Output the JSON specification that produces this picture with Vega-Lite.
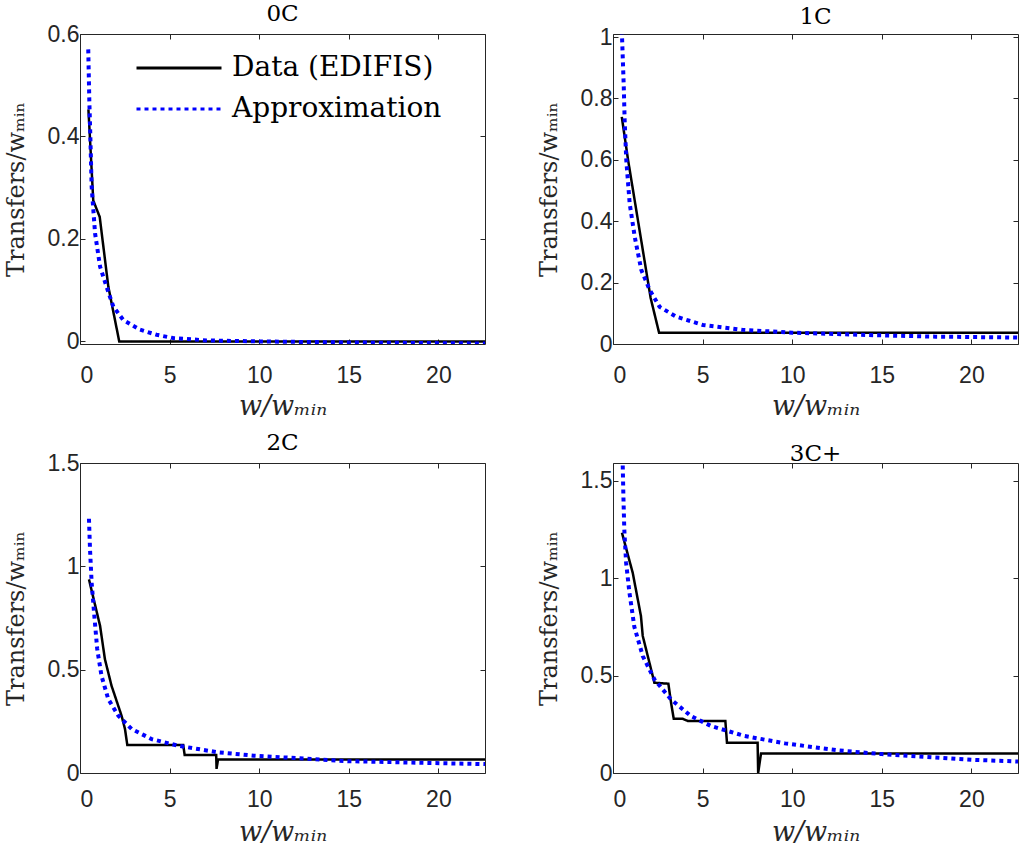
{
  "$schema": "https://vega.github.io/schema/vega-lite/v6.json",
  "background": "white",
  "padding": {"left": 3, "top": 2, "right": 0, "bottom": 2},
  "data": {"values": [
    {"p":"0C","s":"Data (EDIFIS)","x":0.47,"y":0.453},
    {"p":"0C","s":"Data (EDIFIS)","x":0.74,"y":0.275},
    {"p":"0C","s":"Data (EDIFIS)","x":1.1,"y":0.243},
    {"p":"0C","s":"Data (EDIFIS)","x":1.58,"y":0.107},
    {"p":"0C","s":"Data (EDIFIS)","x":2.19,"y":0},
    {"p":"0C","s":"Data (EDIFIS)","x":22.6,"y":0},
    {"p":"0C","s":"Approximation","x":0.46,"y":0.57},
    {"p":"0C","s":"Approximation","x":0.52,"y":0.47},
    {"p":"0C","s":"Approximation","x":0.57,"y":0.41},
    {"p":"0C","s":"Approximation","x":0.65,"y":0.302},
    {"p":"0C","s":"Approximation","x":0.84,"y":0.211},
    {"p":"0C","s":"Approximation","x":1.12,"y":0.146},
    {"p":"0C","s":"Approximation","x":1.48,"y":0.107},
    {"p":"0C","s":"Approximation","x":1.86,"y":0.068},
    {"p":"0C","s":"Approximation","x":2.41,"y":0.042},
    {"p":"0C","s":"Approximation","x":3.35,"y":0.023},
    {"p":"0C","s":"Approximation","x":4.27,"y":0.013},
    {"p":"0C","s":"Approximation","x":5.2,"y":0.0066},
    {"p":"0C","s":"Approximation","x":7.06,"y":0.002},
    {"p":"0C","s":"Approximation","x":10,"y":0},
    {"p":"0C","s":"Approximation","x":15,"y":-0.002},
    {"p":"0C","s":"Approximation","x":22.6,"y":-0.004},
    {"p":"1C","s":"Data (EDIFIS)","x":0.49,"y":0.74},
    {"p":"1C","s":"Data (EDIFIS)","x":0.84,"y":0.6},
    {"p":"1C","s":"Data (EDIFIS)","x":2.1,"y":0.15},
    {"p":"1C","s":"Data (EDIFIS)","x":2.57,"y":0.037},
    {"p":"1C","s":"Data (EDIFIS)","x":22.6,"y":0.037},
    {"p":"1C","s":"Approximation","x":0.49,"y":1.1},
    {"p":"1C","s":"Approximation","x":0.5,"y":1.007},
    {"p":"1C","s":"Approximation","x":0.6,"y":0.84},
    {"p":"1C","s":"Approximation","x":0.65,"y":0.73},
    {"p":"1C","s":"Approximation","x":0.74,"y":0.6},
    {"p":"1C","s":"Approximation","x":0.93,"y":0.458},
    {"p":"1C","s":"Approximation","x":1.21,"y":0.35},
    {"p":"1C","s":"Approximation","x":1.58,"y":0.241},
    {"p":"1C","s":"Approximation","x":2.05,"y":0.176},
    {"p":"1C","s":"Approximation","x":2.6,"y":0.121},
    {"p":"1C","s":"Approximation","x":3.53,"y":0.089},
    {"p":"1C","s":"Approximation","x":5.02,"y":0.062},
    {"p":"1C","s":"Approximation","x":7.25,"y":0.046},
    {"p":"1C","s":"Approximation","x":10,"y":0.037},
    {"p":"1C","s":"Approximation","x":14.3,"y":0.029},
    {"p":"1C","s":"Approximation","x":18,"y":0.024},
    {"p":"1C","s":"Approximation","x":22.6,"y":0.021},
    {"p":"2C","s":"Data (EDIFIS)","x":0.5,"y":0.937},
    {"p":"2C","s":"Data (EDIFIS)","x":1.12,"y":0.712},
    {"p":"2C","s":"Data (EDIFIS)","x":1.39,"y":0.551},
    {"p":"2C","s":"Data (EDIFIS)","x":1.76,"y":0.422},
    {"p":"2C","s":"Data (EDIFIS)","x":2.32,"y":0.277},
    {"p":"2C","s":"Data (EDIFIS)","x":2.51,"y":0.213},
    {"p":"2C","s":"Data (EDIFIS)","x":2.64,"y":0.135},
    {"p":"2C","s":"Data (EDIFIS)","x":5.76,"y":0.135},
    {"p":"2C","s":"Data (EDIFIS)","x":5.84,"y":0.087},
    {"p":"2C","s":"Data (EDIFIS)","x":7.6,"y":0.087},
    {"p":"2C","s":"Data (EDIFIS)","x":7.62,"y":0.02},
    {"p":"2C","s":"Data (EDIFIS)","x":7.7,"y":0.065},
    {"p":"2C","s":"Data (EDIFIS)","x":22.6,"y":0.065},
    {"p":"2C","s":"Approximation","x":0.5,"y":1.23},
    {"p":"2C","s":"Approximation","x":0.56,"y":1.08},
    {"p":"2C","s":"Approximation","x":0.65,"y":0.92},
    {"p":"2C","s":"Approximation","x":0.8,"y":0.76},
    {"p":"2C","s":"Approximation","x":0.96,"y":0.6},
    {"p":"2C","s":"Approximation","x":1.2,"y":0.47},
    {"p":"2C","s":"Approximation","x":1.58,"y":0.357},
    {"p":"2C","s":"Approximation","x":2.14,"y":0.277},
    {"p":"2C","s":"Approximation","x":2.88,"y":0.213},
    {"p":"2C","s":"Approximation","x":4.0,"y":0.164},
    {"p":"2C","s":"Approximation","x":5.48,"y":0.132},
    {"p":"2C","s":"Approximation","x":7.7,"y":0.1},
    {"p":"2C","s":"Approximation","x":9.7,"y":0.084},
    {"p":"2C","s":"Approximation","x":15,"y":0.057},
    {"p":"2C","s":"Approximation","x":22.6,"y":0.043},
    {"p":"3C+","s":"Data (EDIFIS)","x":0.5,"y":1.232},
    {"p":"3C+","s":"Data (EDIFIS)","x":1.1,"y":1.027},
    {"p":"3C+","s":"Data (EDIFIS)","x":1.56,"y":0.805},
    {"p":"3C+","s":"Data (EDIFIS)","x":1.66,"y":0.703},
    {"p":"3C+","s":"Data (EDIFIS)","x":1.94,"y":0.6},
    {"p":"3C+","s":"Data (EDIFIS)","x":2.31,"y":0.463},
    {"p":"3C+","s":"Data (EDIFIS)","x":3.09,"y":0.458},
    {"p":"3C+","s":"Data (EDIFIS)","x":3.24,"y":0.36},
    {"p":"3C+","s":"Data (EDIFIS)","x":3.39,"y":0.278},
    {"p":"3C+","s":"Data (EDIFIS)","x":3.89,"y":0.278},
    {"p":"3C+","s":"Data (EDIFIS)","x":4.17,"y":0.267},
    {"p":"3C+","s":"Data (EDIFIS)","x":6.27,"y":0.267},
    {"p":"3C+","s":"Data (EDIFIS)","x":6.36,"y":0.155},
    {"p":"3C+","s":"Data (EDIFIS)","x":8.07,"y":0.155},
    {"p":"3C+","s":"Data (EDIFIS)","x":8.1,"y":0},
    {"p":"3C+","s":"Data (EDIFIS)","x":8.26,"y":0.1},
    {"p":"3C+","s":"Data (EDIFIS)","x":22.6,"y":0.1},
    {"p":"3C+","s":"Approximation","x":0.5,"y":1.7},
    {"p":"3C+","s":"Approximation","x":0.54,"y":1.59},
    {"p":"3C+","s":"Approximation","x":0.58,"y":1.42},
    {"p":"3C+","s":"Approximation","x":0.63,"y":1.25},
    {"p":"3C+","s":"Approximation","x":0.73,"y":1.08},
    {"p":"3C+","s":"Approximation","x":0.91,"y":0.93},
    {"p":"3C+","s":"Approximation","x":1.19,"y":0.75},
    {"p":"3C+","s":"Approximation","x":1.66,"y":0.6},
    {"p":"3C+","s":"Approximation","x":2.31,"y":0.48},
    {"p":"3C+","s":"Approximation","x":3.24,"y":0.377},
    {"p":"3C+","s":"Approximation","x":4.35,"y":0.292},
    {"p":"3C+","s":"Approximation","x":5.47,"y":0.241},
    {"p":"3C+","s":"Approximation","x":7.33,"y":0.19},
    {"p":"3C+","s":"Approximation","x":9.6,"y":0.152},
    {"p":"3C+","s":"Approximation","x":12.55,"y":0.116},
    {"p":"3C+","s":"Approximation","x":15,"y":0.097},
    {"p":"3C+","s":"Approximation","x":20,"y":0.068},
    {"p":"3C+","s":"Approximation","x":22.6,"y":0.059}
  ]},
  "columns": 2,
  "spacing": {"row": 119, "column": 128},
  "bounds": "flush",
  "resolve": {"legend": {"color": "independent", "strokeDash": "independent"}},
  "concat": [
    {
      "width": 405, "height": 310, "title": "0C",
      "transform": [{"filter": "datum.p === '0C'"}],
      "resolve": {"axis": {"x": "independent", "y": "independent"}},
      "layer": [
        {
          "transform": [{"filter": "datum.s === 'Data (EDIFIS)'"}],
          "mark": {"type": "line", "strokeWidth": 2.5, "clip": true},
          "encoding": {
            "x": {"field": "x", "type": "quantitative", "scale": {"domain": [0, 22.6], "nice": false, "zero": false}, "axis": {"orient": "bottom", "values": [0,5,10,15,20], "title": "w/wₘᵢₙ", "titleFontStyle": "italic", "titleFontSize": 27, "labelPadding": 25, "titlePadding": 6}},
            "y": {"field": "y", "type": "quantitative", "scale": {"domain": [-0.005, 0.6], "nice": false, "zero": false}, "axis": {"orient": "left", "values": [0,0.2,0.4,0.6], "format": "~g", "title": "Transfers/wₘᵢₙ", "labelPadding": 6, "titlePadding": 19}},
            "color": {"field": "s", "type": "nominal", "scale": {"domain": ["Data (EDIFIS)", "Approximation"], "range": ["#000000", "#0000ff"]}, "legend": {"orient": "none", "legendX": 55, "legendY": 20, "title": null, "symbolType": "stroke", "symbolSize": 7225, "symbolStrokeWidth": 3, "labelFont": "DejaVu Serif", "labelFontSize": 28, "labelColor": "#000000", "labelLimit": 0, "clipHeight": 28, "rowPadding": 13, "labelOffset": 9, "padding": 0}},
            "strokeDash": {"field": "s", "type": "nominal", "scale": {"domain": ["Data (EDIFIS)", "Approximation"], "range": [[1,0],[4,4]]}, "legend": {"orient": "none", "legendX": 55, "legendY": 20, "title": null, "symbolType": "stroke", "symbolSize": 7225, "symbolStrokeWidth": 3, "labelFont": "DejaVu Serif", "labelFontSize": 28, "labelColor": "#000000", "labelLimit": 0, "clipHeight": 28, "rowPadding": 13, "labelOffset": 9, "padding": 0}}
          }
        },
        {
          "transform": [{"filter": "datum.s === 'Approximation'"}],
          "mark": {"type": "line", "strokeWidth": 4, "clip": true},
          "encoding": {
            "x": {"field": "x", "type": "quantitative", "axis": {"orient": "top", "values": [0,5,10,15,20], "labels": false, "title": null, "minExtent": 0}},
            "y": {"field": "y", "type": "quantitative", "axis": {"orient": "right", "values": [0,0.2,0.4,0.6], "labels": false, "title": null, "minExtent": 0}},
            "color": {"field": "s", "type": "nominal", "legend": {"orient": "none", "legendX": 55, "legendY": 20, "title": null, "symbolType": "stroke", "symbolSize": 7225, "symbolStrokeWidth": 3, "labelFont": "DejaVu Serif", "labelFontSize": 28, "labelColor": "#000000", "labelLimit": 0, "clipHeight": 28, "rowPadding": 13, "labelOffset": 9, "padding": 0}},
            "strokeDash": {"field": "s", "type": "nominal", "legend": {"orient": "none", "legendX": 55, "legendY": 20, "title": null, "symbolType": "stroke", "symbolSize": 7225, "symbolStrokeWidth": 3, "labelFont": "DejaVu Serif", "labelFontSize": 28, "labelColor": "#000000", "labelLimit": 0, "clipHeight": 28, "rowPadding": 13, "labelOffset": 9, "padding": 0}}
          }
        }
      ]
    },
    {
      "width": 405, "height": 310, "title": "1C",
      "transform": [{"filter": "datum.p === '1C'"}],
      "resolve": {"axis": {"x": "independent", "y": "independent"}},
      "layer": [
        {
          "transform": [{"filter": "datum.s === 'Data (EDIFIS)'"}],
          "mark": {"type": "line", "strokeWidth": 2.5, "clip": true},
          "encoding": {
            "x": {"field": "x", "type": "quantitative", "scale": {"domain": [0, 22.6], "nice": false, "zero": false}, "axis": {"orient": "bottom", "values": [0,5,10,15,20], "title": "w/wₘᵢₙ", "titleFontStyle": "italic", "titleFontSize": 27, "labelPadding": 25, "titlePadding": 6}},
            "y": {"field": "y", "type": "quantitative", "scale": {"domain": [0, 1.01], "nice": false, "zero": false}, "axis": {"orient": "left", "values": [0,0.2,0.4,0.6,0.8,1], "format": "~g", "title": "Transfers/wₘᵢₙ", "labelPadding": 6, "titlePadding": 19}},
            "color": {"field": "s", "type": "nominal", "scale": {"domain": ["Data (EDIFIS)", "Approximation"], "range": ["#000000", "#0000ff"]}, "legend": null},
            "strokeDash": {"field": "s", "type": "nominal", "scale": {"domain": ["Data (EDIFIS)", "Approximation"], "range": [[1,0],[4,4]]}, "legend": null}
          }
        },
        {
          "transform": [{"filter": "datum.s === 'Approximation'"}],
          "mark": {"type": "line", "strokeWidth": 4, "clip": true},
          "encoding": {
            "x": {"field": "x", "type": "quantitative", "axis": {"orient": "top", "values": [0,5,10,15,20], "labels": false, "title": null, "minExtent": 0}},
            "y": {"field": "y", "type": "quantitative", "axis": {"orient": "right", "values": [0,0.2,0.4,0.6,0.8,1], "labels": false, "title": null, "minExtent": 0}},
            "color": {"field": "s", "type": "nominal", "legend": null},
            "strokeDash": {"field": "s", "type": "nominal", "legend": null}
          }
        }
      ]
    },
    {
      "width": 405, "height": 310, "title": "2C",
      "transform": [{"filter": "datum.p === '2C'"}],
      "resolve": {"axis": {"x": "independent", "y": "independent"}},
      "layer": [
        {
          "transform": [{"filter": "datum.s === 'Data (EDIFIS)'"}],
          "mark": {"type": "line", "strokeWidth": 2.5, "clip": true},
          "encoding": {
            "x": {"field": "x", "type": "quantitative", "scale": {"domain": [0, 22.6], "nice": false, "zero": false}, "axis": {"orient": "bottom", "values": [0,5,10,15,20], "title": "w/wₘᵢₙ", "titleFontStyle": "italic", "titleFontSize": 27, "labelPadding": 20, "titlePadding": 8}},
            "y": {"field": "y", "type": "quantitative", "scale": {"domain": [0, 1.5], "nice": false, "zero": false}, "axis": {"orient": "left", "values": [0,0.5,1,1.5], "format": "~g", "title": "Transfers/wₘᵢₙ", "labelPadding": 6, "titlePadding": 19}},
            "color": {"field": "s", "type": "nominal", "scale": {"domain": ["Data (EDIFIS)", "Approximation"], "range": ["#000000", "#0000ff"]}, "legend": null},
            "strokeDash": {"field": "s", "type": "nominal", "scale": {"domain": ["Data (EDIFIS)", "Approximation"], "range": [[1,0],[4,4]]}, "legend": null}
          }
        },
        {
          "transform": [{"filter": "datum.s === 'Approximation'"}],
          "mark": {"type": "line", "strokeWidth": 4, "clip": true},
          "encoding": {
            "x": {"field": "x", "type": "quantitative", "axis": {"orient": "top", "values": [0,5,10,15,20], "labels": false, "title": null, "minExtent": 0}},
            "y": {"field": "y", "type": "quantitative", "axis": {"orient": "right", "values": [0,0.5,1,1.5], "labels": false, "title": null, "minExtent": 0}},
            "color": {"field": "s", "type": "nominal", "legend": null},
            "strokeDash": {"field": "s", "type": "nominal", "legend": null}
          }
        }
      ]
    },
    {
      "width": 405, "height": 310, "title": "3C+",
      "transform": [{"filter": "datum.p === '3C+'"}],
      "resolve": {"axis": {"x": "independent", "y": "independent"}},
      "layer": [
        {
          "transform": [{"filter": "datum.s === 'Data (EDIFIS)'"}],
          "mark": {"type": "line", "strokeWidth": 2.5, "clip": true},
          "encoding": {
            "x": {"field": "x", "type": "quantitative", "scale": {"domain": [0, 22.6], "nice": false, "zero": false}, "axis": {"orient": "bottom", "values": [0,5,10,15,20], "title": "w/wₘᵢₙ", "titleFontStyle": "italic", "titleFontSize": 27, "labelPadding": 20, "titlePadding": 8}},
            "y": {"field": "y", "type": "quantitative", "scale": {"domain": [0, 1.59], "nice": false, "zero": false}, "axis": {"orient": "left", "values": [0,0.5,1,1.5], "format": "~g", "title": "Transfers/wₘᵢₙ", "labelPadding": 6, "titlePadding": 19}},
            "color": {"field": "s", "type": "nominal", "scale": {"domain": ["Data (EDIFIS)", "Approximation"], "range": ["#000000", "#0000ff"]}, "legend": null},
            "strokeDash": {"field": "s", "type": "nominal", "scale": {"domain": ["Data (EDIFIS)", "Approximation"], "range": [[1,0],[4,4]]}, "legend": null}
          }
        },
        {
          "transform": [{"filter": "datum.s === 'Approximation'"}],
          "mark": {"type": "line", "strokeWidth": 4, "clip": true},
          "encoding": {
            "x": {"field": "x", "type": "quantitative", "axis": {"orient": "top", "values": [0,5,10,15,20], "labels": false, "title": null, "minExtent": 0}},
            "y": {"field": "y", "type": "quantitative", "axis": {"orient": "right", "values": [0,0.5,1,1.5], "labels": false, "title": null, "minExtent": 0}},
            "color": {"field": "s", "type": "nominal", "legend": null},
            "strokeDash": {"field": "s", "type": "nominal", "legend": null}
          }
        }
      ]
    }
  ],
  "config": {
    "view": {"stroke": "#262626", "strokeWidth": 1},
    "font": "Liberation Sans",
    "title": {"font": "DejaVu Serif", "fontSize": 23, "fontWeight": "normal", "color": "#000000", "offset": -3, "anchor": "middle"},
    "axis": {"domain": false, "grid": false, "tickColor": "#262626", "tickSize": -5, "tickWidth": 1, "labelFont": "Liberation Sans", "labelFontSize": 23, "labelColor": "#262626", "titleFont": "DejaVu Serif", "titleFontSize": 24, "titleFontWeight": "normal", "titleColor": "#262626"}
  }
}
